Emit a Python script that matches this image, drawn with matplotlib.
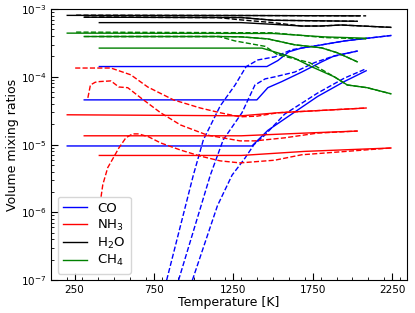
import numpy as np
import matplotlib
matplotlib.use("Agg")
import matplotlib.pyplot as plt
from matplotlib.ticker import MultipleLocator

# values, log10 of the mixing ratio
# model 1 (starts ~200 K), model 2 (~300 K), model 3 (~400 K)

# CO
co_s1_T = [406, 1461, 1530, 1600, 1680, 1800, 1950, 2242]
co_s1 = [-3.848, -3.848, -3.76, -3.63, -3.575, -3.53, -3.47, -3.39]
co_d1_T = [830, 998, 1061, 1167, 1261, 1330, 1405, 1511, 1617, 1680, 1800, 1950, 2242]
co_d1 = [-7.0, -5.45, -4.93, -4.43, -4.12, -3.85, -3.75, -3.705, -3.60, -3.575, -3.53, -3.47, -3.39]

co_s2_T = [311, 1398, 1467, 1555, 1680, 1805, 1886, 2030]
co_s2 = [-4.34, -4.34, -4.16, -4.07, -3.93, -3.78, -3.69, -3.62]
co_d2_T = [905, 1105, 1186, 1304, 1386, 1450, 1511, 1636, 1761, 1867, 2030]
co_d2 = [-7.0, -5.45, -4.93, -4.53, -4.12, -4.03, -4.0, -3.93, -3.79, -3.705, -3.62]

co_s3_T = [204, 1367, 1467, 1592, 1780, 1948, 2086]
co_s3 = [-5.02, -5.02, -4.79, -4.59, -4.29, -4.07, -3.91]
co_d3_T = [992, 1150, 1242, 1323, 1380, 1448, 1573, 1780, 1948, 2086]
co_d3 = [-7.0, -5.9, -5.45, -5.2, -5.0, -4.86, -4.55, -4.24, -4.02, -3.88]

# NH3
nh3_s1_T = [204, 1300, 1530, 2086]
nh3_s1 = [-4.56, -4.575, -4.53, -4.46]
nh3_d1_T = [254, 479, 604, 711, 873, 1042, 1167, 1292, 1400, 1530, 2086]
nh3_d1 = [-3.87, -3.87, -3.97, -4.15, -4.34, -4.46, -4.53, -4.59, -4.58, -4.53, -4.46]

nh3_s2_T = [311, 1300, 1700, 2030]
nh3_s2 = [-4.87, -4.87, -4.83, -4.80]
nh3_d2_T = [334, 350, 380, 406, 479, 529, 585, 667, 792, 917, 1086, 1292, 1386, 1573, 1780, 2030]
nh3_d2 = [-4.31, -4.12, -4.08, -4.07, -4.06, -4.15, -4.16, -4.31, -4.53, -4.71, -4.86, -4.945, -4.945, -4.90, -4.83, -4.80]

nh3_s3_T = [406, 1300, 1700, 2242]
nh3_s3 = [-5.16, -5.16, -5.10, -5.05]
nh3_d3_T = [417, 428, 459, 498, 529, 573, 615, 654, 717, 792, 917, 1042, 1167, 1292, 1511, 1680, 2242]
nh3_d3 = [-5.77, -5.59, -5.34, -5.18, -5.05, -4.90, -4.842, -4.842, -4.886, -4.975, -5.08, -5.17, -5.24, -5.27, -5.23, -5.15, -5.05]

# H2O
h2o_s1_T = [204, 1300, 2042]
h2o_s1 = [-3.093, -3.095, -3.10]
h2o_d1_T = [260, 1300, 2086]
h2o_d1 = [-3.09, -3.095, -3.10]

h2o_s2_T = [311, 1300, 1500, 2030]
h2o_s2 = [-3.12, -3.125, -3.165, -3.18]
h2o_d2_T = [311, 1300, 1500, 2030]
h2o_d2 = [-3.12, -3.125, -3.165, -3.18]

h2o_s3_T = [406, 1300, 1500, 1680, 1800, 1930, 2242]
h2o_s3 = [-3.20, -3.20, -3.225, -3.25, -3.25, -3.235, -3.27]
h2o_d3_T = [406, 1150, 1300, 1500, 1680, 1800, 1930, 2242]
h2o_d3 = [-3.12, -3.125, -3.16, -3.20, -3.25, -3.25, -3.235, -3.27]

# CH4
ch4_s1_T = [204, 1500, 1820, 2086]
ch4_s1 = [-3.355, -3.36, -3.41, -3.43]
ch4_d1_T = [260, 1500, 1820, 2086]
ch4_d1 = [-3.34, -3.35, -3.42, -3.44]

ch4_s2_T = [311, 1160, 1300, 1467, 1636, 1805, 1905, 2030]
ch4_s2 = [-3.405, -3.405, -3.41, -3.44, -3.527, -3.572, -3.645, -3.778]
ch4_d2_T = [311, 1160, 1300, 1467, 1636, 1805, 1905, 2030]
ch4_d2 = [-3.405, -3.405, -3.41, -3.44, -3.527, -3.572, -3.645, -3.778]

ch4_s3_T = [406, 1430, 1530, 1630, 1742, 1886, 1967, 2092, 2242]
ch4_s3 = [-3.576, -3.576, -3.646, -3.72, -3.85, -4.0, -4.12, -4.16, -4.25]
ch4_d3_T = [406, 1160, 1260, 1450, 1530, 1611, 1730, 1886, 1967, 2092, 2242]
ch4_d3 = [-3.405, -3.405, -3.47, -3.55, -3.675, -3.72, -3.79, -4.0, -4.12, -4.16, -4.25]

species = ["CO", "NH$_3$", "H$_2$O", "CH$_4$"]
colors = ["blue", "red", "black", "green"]

lines = {
    "blue": [(co_s1_T, co_s1, co_d1_T, co_d1),
             (co_s2_T, co_s2, co_d2_T, co_d2),
             (co_s3_T, co_s3, co_d3_T, co_d3)],
    "red": [(nh3_s1_T, nh3_s1, nh3_d1_T, nh3_d1),
            (nh3_s2_T, nh3_s2, nh3_d2_T, nh3_d2),
            (nh3_s3_T, nh3_s3, nh3_d3_T, nh3_d3)],
    "black": [(h2o_s1_T, h2o_s1, h2o_d1_T, h2o_d1),
              (h2o_s2_T, h2o_s2, h2o_d2_T, h2o_d2),
              (h2o_s3_T, h2o_s3, h2o_d3_T, h2o_d3)],
    "green": [(ch4_s1_T, ch4_s1, ch4_d1_T, ch4_d1),
              (ch4_s2_T, ch4_s2, ch4_d2_T, ch4_d2),
              (ch4_s3_T, ch4_s3, ch4_d3_T, ch4_d3)],
}

fig = plt.figure(figsize=(4.15, 3.13), dpi=100)
ax = fig.add_axes([0.123, 0.105, 0.858, 0.866])

lw = 1.0
for c in colors:
    for sT, s, dT, d in lines[c]:
        ax.plot(sT, np.power(10.0, s), color=c, lw=lw, ls="-")
        ax.plot(dT, np.power(10.0, d), color=c, lw=lw, ls="--")

ax.set_yscale("log")
ax.set_ylim(1e-7, 1e-3)
ax.set_xticks([250, 750, 1250, 1750, 2250])
ax.xaxis.set_minor_locator(MultipleLocator(100))
ax.tick_params(which="both", direction="in", labelsize=7.5)
ax.tick_params(which="major", length=5)
ax.tick_params(which="minor", length=2.5)

ax.set_xlabel("Temperature [K]", fontsize=9, labelpad=1)
ax.set_ylabel("Volume mixing ratios", fontsize=9, labelpad=1)

handles = [plt.Line2D([], [], color=c, lw=lw) for c in colors]
ax.legend(handles, species, loc="lower left", fontsize=9.5,
          labelspacing=0.2, handlelength=1.8, borderpad=0.4)

fig.savefig("out.png", dpi=100)
